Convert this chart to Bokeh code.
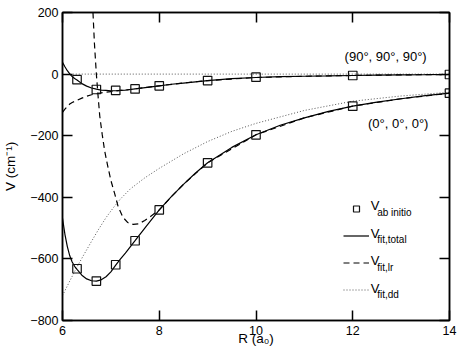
from bokeh.plotting import figure
from bokeh.models import LinearAxis, Range1d, FixedTicker, Legend, LegendItem, Label, CustomLabelingPolicy
from bokeh.core.properties import value
from bokeh.embed import file_html
from bokeh.resources import INLINE

# ---------------- data ----------------
R_ab = [6.3, 6.7, 7.1, 7.5, 8.0, 9.0, 10.0, 12.0, 14.0]
V_ab_90 = [-18, -50, -53, -48, -38, -21, -10, -4.5, -1.3]
V_ab_0 = [-632, -672, -619, -541, -441, -288, -197, -104, -62]

R_fit = [6.0, 6.05, 6.1, 6.15, 6.2, 6.25, 6.3, 6.4, 6.5, 6.6, 6.7, 6.8, 6.9,
         7.0, 7.1, 7.2, 7.3, 7.4, 7.5, 7.75, 8.0, 8.25, 8.5, 8.75, 9.0, 9.5,
         10.0, 10.5, 11.0, 11.5, 12.0, 12.5, 13.0, 13.5, 14.0]
V_total_90 = [38, 24, 11, 1, -8, -14, -19, -31, -39, -45, -49, -52, -53,
              -54, -54, -53, -52, -50, -48, -43, -38, -33, -29, -25, -21, -15,
              -11, -8.5, -7, -6, -4.5, -3.5, -2.5, -2, -1.3]
V_total_0 = [-468, -520, -560, -590, -610, -624, -634, -653, -665, -671, -672, -668, -658,
             -642, -620, -600, -581, -561, -541, -490, -441, -398, -358, -321, -288, -238,
             -197, -166, -142, -121, -104, -91, -80, -70, -62]

R_lr_90 = [6.0, 6.05, 6.1, 6.15, 6.2, 6.3, 6.4, 6.5, 6.6, 6.7, 6.8, 6.9, 7.0,
           7.1, 7.2, 7.3, 7.4, 7.5, 7.75, 8.0, 8.5, 9.0, 10.0, 11.0, 12.0, 13.0, 14.0]
V_lr_90 = [-124, -114, -105, -97, -92, -85, -78, -72, -67, -64, -61, -59, -57,
           -55, -53, -52, -50, -48, -43, -38, -29, -21, -11, -7, -4.5, -2.5, -1.3]

R_lr_0 = [6.63, 6.66, 6.70, 6.74, 6.77, 6.82, 6.87, 6.93, 7.0, 7.08, 7.15, 7.25,
          7.35, 7.46, 7.58, 7.70, 7.82, 7.94, 8.0, 8.25, 8.5, 9.0, 10.0, 11.0,
          12.0, 13.0, 14.0]
V_lr_0 = [200, 100, 0, -80, -136, -195, -248, -295, -345, -389, -430, -465,
          -482, -488, -486, -475, -462, -448, -441, -398, -358, -288, -197, -142,
          -104, -80, -62]

R_dd_90 = [6.15, 14.0]
V_dd_90 = [0, 0]
R_dd_0 = [6.0, 6.15, 6.3, 6.45, 6.6, 6.75, 6.9, 7.05, 7.2, 7.4, 7.7, 8.0,
          8.5, 9.0, 9.5, 10.0, 11.0, 12.0, 13.0, 14.0]
V_dd_0 = [-719, -672, -626, -584, -543, -503, -466, -434, -405, -373, -337, -306,
          -259, -219, -186, -160, -118, -88, -71, -59]

x_ticks = [6, 8, 10, 12, 14]
y_ticks = [200, 0, -200, -400, -600, -800]
y_tick_text = ["200", "0", "\u2212200", "\u2212400", "\u2212600", "\u2212800"]
angle_labels = ["(90\u00b0, 90\u00b0, 90\u00b0)", "(0\u00b0, 0\u00b0, 0\u00b0)"]
legend_subs = ["ab initio", "fit,total", "fit,lr", "fit,dd"]

# ---------------- figure ----------------
FONT = "Liberation Sans"
p = figure(width=463, height=358, x_range=Range1d(6, 14), y_range=Range1d(-800, 200),
           output_backend="svg", toolbar_location=None,
           min_border_left=61, min_border_right=14, min_border_top=12, min_border_bottom=38,
           x_axis_label="R (a\u2080)", y_axis_label="V (cm\u207b\u00b9)")
p.xgrid.visible = False
p.ygrid.visible = False
p.outline_line_color = "black"
p.outline_line_width = 1.5
p.background_fill_color = "white"
p.border_fill_color = "white"

NO_LABELS = CustomLabelingPolicy(code="""
for (const i of indices) { indices.unset(i) }
return indices
""")


def style_axis(ax, ticks, labels=True):
    ax.ticker = FixedTicker(ticks=ticks)
    ax.major_tick_in = 10
    ax.major_tick_out = 0
    ax.minor_tick_in = 0
    ax.minor_tick_out = 0
    ax.axis_line_width = 1.5
    ax.axis_line_color = "black"
    ax.major_tick_line_width = 1.5
    ax.major_tick_line_color = "black"
    ax.major_label_text_font = FONT
    ax.major_label_text_color = "black"
    if labels:
        ax.major_label_text_font_size = "12.5px"
    else:
        ax.major_label_text_font_size = "1px"
        ax.major_label_standoff = 0
        ax.major_label_policy = NO_LABELS


style_axis(p.xaxis[0], x_ticks)
style_axis(p.yaxis[0], y_ticks)
p.yaxis[0].major_label_overrides = {t: s for t, s in zip(y_ticks, y_tick_text)}
p.xaxis[0].major_label_standoff = 5
p.yaxis[0].major_label_standoff = 4
for ax in (p.xaxis[0], p.yaxis[0]):
    ax.axis_label_text_font = FONT
    ax.axis_label_text_font_size = "13.5px"
    ax.axis_label_text_font_style = "normal"
    ax.axis_label_text_color = "black"
p.xaxis[0].axis_label_standoff = -7
p.yaxis[0].axis_label_standoff = 9

top = LinearAxis()
style_axis(top, x_ticks, labels=False)
p.add_layout(top, "above")
right = LinearAxis()
style_axis(right, y_ticks, labels=False)
p.add_layout(right, "right")

# ---------------- curves ----------------
DASH = "6 4"
DOT = "1 2"
dd90 = p.line(R_dd_90, V_dd_90, line_color="#555555", line_width=1, line_dash=DOT)
dd0 = p.line(R_dd_0, V_dd_0, line_color="#555555", line_width=1, line_dash=DOT)
lr90 = p.line(R_lr_90, V_lr_90, line_color="black", line_width=1.2, line_dash=DASH)
lr0 = p.line(R_lr_0, V_lr_0, line_color="black", line_width=1.2, line_dash=DASH)
tot90 = p.line(R_fit, V_total_90, line_color="black", line_width=1.2)
tot0 = p.line(R_fit, V_total_0, line_color="black", line_width=1.2)
sq90 = p.scatter(R_ab, V_ab_90, marker="square", size=8.5, fill_color=None,
                 line_color="#111111", line_width=1.2)
sq0 = p.scatter(R_ab, V_ab_0, marker="square", size=8.5, fill_color=None,
                line_color="#111111", line_width=1.2)

# ---------------- texts ----------------
p.add_layout(Label(x=12.68, y=57, text=angle_labels[0], text_font=FONT,
                   text_font_size="13px", text_align="center", text_baseline="middle",
                   text_color="black"))
p.add_layout(Label(x=12.94, y=-161, text=angle_labels[1], text_font=FONT,
                   text_font_size="13px", text_align="center", text_baseline="middle",
                   text_color="black"))

# ---------------- legend ----------------
items = [LegendItem(label=value(" "), renderers=[r]) for r in (sq90, tot90, lr90, dd90)]
legend = Legend(items=items, location=(281, 23.5), glyph_width=26, glyph_height=15,
                label_height=15, spacing=12, padding=0, margin=0, label_standoff=0,
                label_width=0, label_text_font_size="8px",
                border_line_alpha=0, background_fill_alpha=0)
p.add_layout(legend)


# legend texts (V with subscripts)
def px_to_R(px):
    return 6 + (px - 61) / 48.5


def py_to_V(py):
    return 200 - (py - 12) * 1000 / 308


row_base = [205, 232.5, 260, 287.5]
for base, sub in zip(row_base, legend_subs):
    p.add_layout(Label(x=px_to_R(370), y=py_to_V(base), text="V", text_font=FONT,
                       text_font_size="13px", text_align="left",
                       text_baseline="alphabetic", text_color="black"))
    p.add_layout(Label(x=px_to_R(376.5), y=py_to_V(base + 6.5), text=sub, text_font=FONT,
                       text_font_size="10px", text_align="left",
                       text_baseline="alphabetic", text_color="black"))

open("out.html", "w").write(file_html(p, INLINE))
